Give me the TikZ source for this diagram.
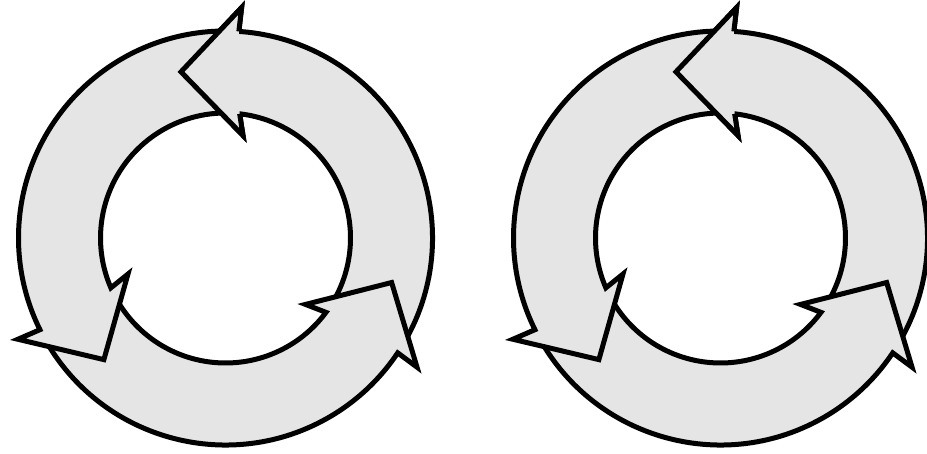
\documentclass[tikz,border=0pt]{standalone}
\begin{document}
\begin{tikzpicture}[x=1pt,y=1pt,
  arrowpart/.style={fill=black!10, draw=black, line width=5pt, line join=miter},
  headfill/.style={fill=black!10}]
\useasboundingbox (0,0) rectangle (927,453);
% one curved arrow of the cycle, #1 = angle of its tip
\newcommand{\cyclearrow}[1]{%
  \filldraw[arrowpart] (#1-136:207) arc[start angle=#1-136, end angle=#1-18.7, radius=207]
    -- (#1-19:231) -- (#1:172) -- (#1-24.7:104) -- (#1-21.5:125)
    arc[start angle=#1-21.5, end angle=#1-136, radius=125] -- cycle;}
\foreach \cx in {225.5,720.5} {
\begin{scope}[shift={(\cx,215)}]
\cyclearrow{105}
\cyclearrow{345}
\cyclearrow{225}
% top head again, over the tail of the left arrow
\fill[headfill] (86.3:207) -- (86:231) -- (105:172) -- (80.3:104) -- (83.5:125) -- cycle;
\draw[arrowpart, fill=none] (86.3:207) -- (86:231) -- (105:172) -- (80.3:104) -- (83.5:125);
\end{scope}
}
\end{tikzpicture}
\end{document}
